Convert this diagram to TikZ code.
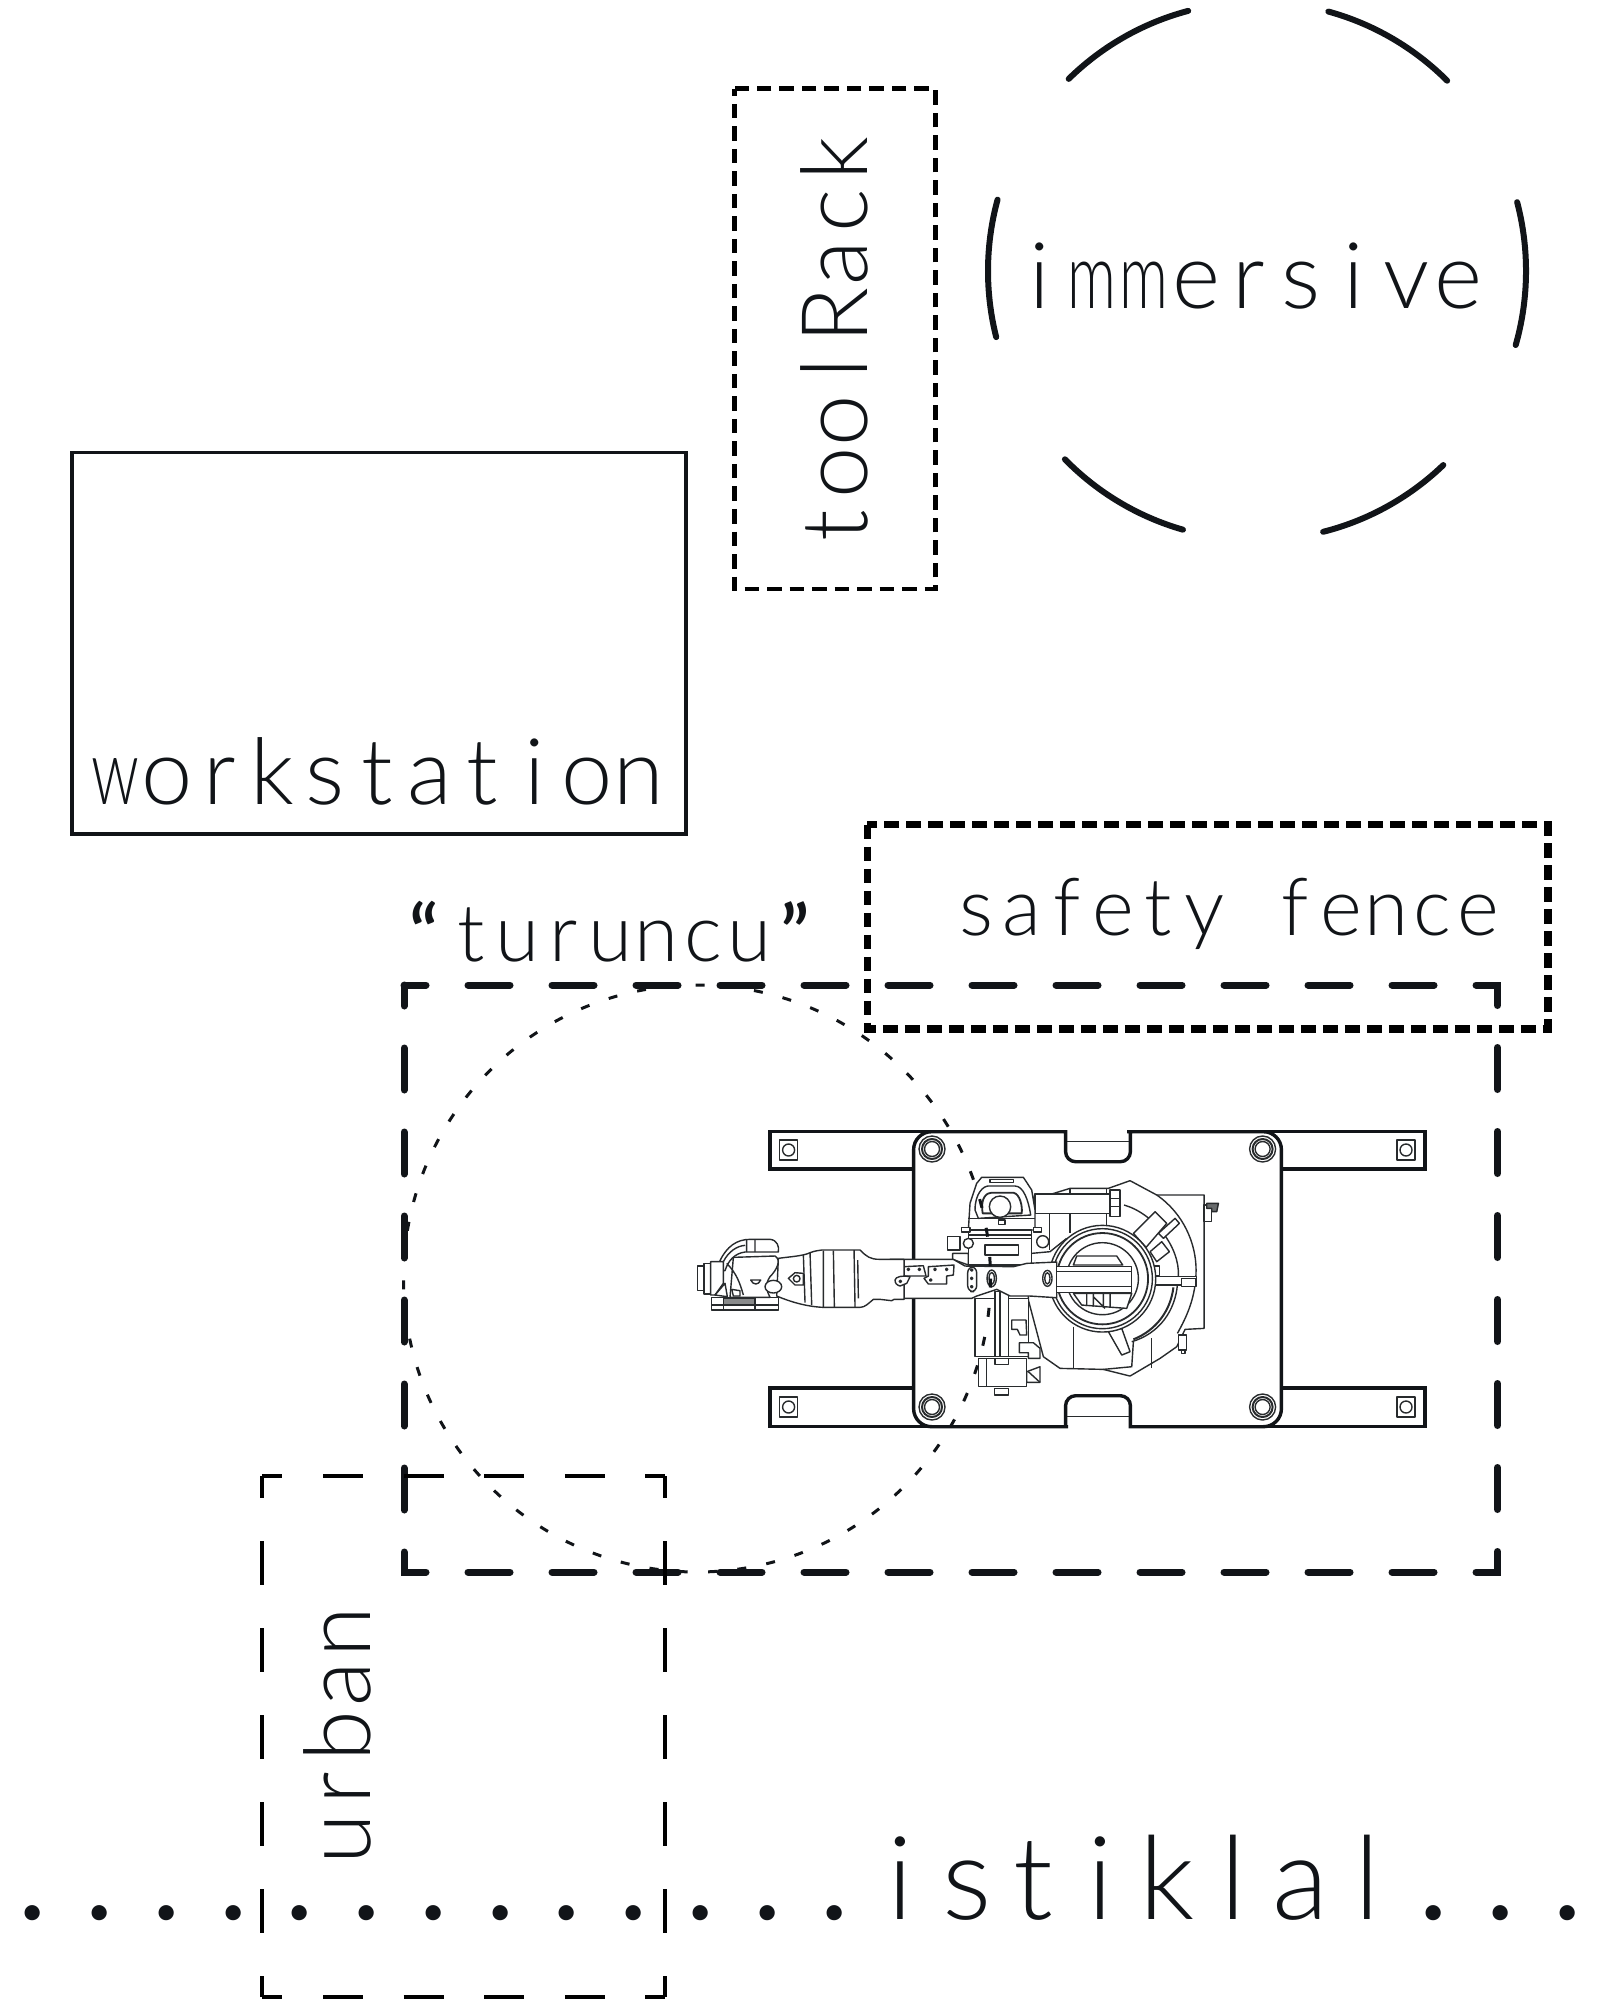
\documentclass[tikz,border=0pt]{standalone}
\usepackage{xcolor}
\usepackage{graphicx}
\usepackage{fontspec}
\newfontfamily\labelfont[UprightFont=* Light]{Lato}
\definecolor{inkblack}{RGB}{17,20,24}
\definecolor{robotgray}{RGB}{40,43,45}
% every letter sits in a box of one pitch
\makeatletter
\newcommand\monotext[2]{\@tfor\monochar:=#2\do{\makebox[#1][c]{\monochar}}}
\makeatother
\newcommand\thinm{\scalebox{0.66}[1]{m}}
\newcommand\thinw{\scalebox{0.68}[1]{w}}
\newcommand\fatdot{{\fontsize{82}{82}\selectfont .}}
\newcommand\openq{{\bfseries\fontsize{39}{39}\selectfont “}}
\newcommand\closeq{{\bfseries\fontsize{39}{39}\selectfont ”}}

\begin{document}
\begin{tikzpicture}[
  x=0.5pt, y=-0.5pt,
  lbl/.style={inner sep=0pt, anchor=base, text=inkblack, font=\labelfont\fontsize{46}{50}\selectfont},
  smalllbl/.style={lbl, font=\labelfont\fontsize{40}{44}\selectfont},
  streetlbl/.style={lbl, font=\labelfont\fontsize{58}{60}\selectfont},
  ring/.style={circle, draw=inkblack, line width=3pt, line cap=round, minimum size=269pt, inner sep=0pt, dash pattern=on 69.5pt off 70.9pt, dash phase=34.7pt},
  zone/.style={draw=inkblack, line width=3.5pt, line cap=round, line join=miter, dash pattern=on 21pt off 21pt, dash phase=10.5pt},
  fence/.style={draw=black, line width=3.8pt, dash pattern=on 7.4pt off 3.6pt},
  rack/.style={draw=black, line width=2.2pt, dash pattern=on 7.25pt off 4pt, dash phase=3.6pt},
  urbanh/.style={draw=black, line width=1.7pt, dash pattern=on 20pt off 20.3pt, dash phase=9.8pt},
  urbanv/.style={draw=black, line width=1.7pt, dash pattern=on 21.8pt off 21.7pt, dash phase=11pt},
  reach/.style={draw=inkblack, line width=1.5pt, dash pattern=on 4.5pt off 10.2pt},
  plate/.style={draw=inkblack, line width=1.7pt, fill=white},
  part/.style={draw=robotgray, line width=0.7pt, fill=white, line join=round},
  edge/.style={draw=robotgray, line width=0.7pt},
]
  \useasboundingbox (0,0) rectangle (1604,2000);

  % fixed things
  \draw[draw=inkblack, line width=1.9pt] (71.6,452.6) rectangle (685.8,834.3);
  \node[lbl] (workstation) at (377,804) {\monotext{26.2pt}{\thinw orkstation}};
  \draw[rack] (734.5,88.7) rectangle (935.3,589);
  \node[lbl, rotate=90] (toolrack) at (867.5,342) {\monotext{26.2pt}{toolRack}};
  \node[ring] (immersivering) at (1257,271) {};
  \node[lbl] (immersive) at (1249,308.6) {\monotext{26.2pt}{i\thinm\thinm ersive}};

  % robot cell
  \node[smalllbl] (turuncu) at (610,961) {\monotext{23.2pt}{\openq turuncu\closeq}};
  \draw[zone] (404,985) rectangle (1497.5,1572);
  \draw[fence] (867.3,824.5) rectangle (1547.7,1029);
  \node[smalllbl] (safety) at (1227,935) {\monotext{22.8pt}{safety{ }fence}};

  % base rails and plate
  \draw[plate] (770,1131.7) rectangle (930,1169);
  \draw[plate] (1260,1131.7) rectangle (1425,1169);
  \draw[plate] (770,1388) rectangle (930,1426.7);
  \draw[plate] (1260,1388) rectangle (1425,1426.7);
  \draw[plate, rounded corners=9pt] (989,1131.7) -- (913.6,1131.7) -- (913.6,1426.7) -- (1050,1426.7) [sharp corners] -- (1065.6,1426.7) [rounded corners=5pt] -- (1065.6,1395.7) -- (1130.4,1395.7) [sharp corners] -- (1130.4,1426.7)
    [rounded corners=9pt] -- (1281.4,1426.7) -- (1281.4,1131.7) -- (1145,1131.7) [sharp corners] -- (1130.4,1131.7) [rounded corners=5pt] -- (1130.4,1161.7) -- (1065.6,1161.7) [sharp corners] -- (1065.6,1131.7) -- cycle;
  \draw[edge] (1067,1141.7) -- (1129,1141.7);
  \draw[edge] (1067,1416.7) -- (1129,1416.7);
  \foreach \bx/\by in {932/1149, 1262.6/1149, 932/1407, 1262.6/1407} {
    \draw[part] (\bx,\by) circle (13);
    \draw[part, line width=1pt] (\bx,\by) circle (10);
    \draw[part] (\bx,\by) circle (7.5);
  }
  \foreach \sx/\sy in {788.6/1150, 1406/1150, 788.6/1407, 1406/1407} {
    \draw[part] (\sx-9,\sy-10) rectangle (\sx+9,\sy+10);
    \draw[part] (\sx,\sy) circle (6);
  }

  % robot body, traced at 3x from its top corner
  \begin{scope}[shift={(900,1170)}, x=0.1667pt, y=-0.1667pt]
    \draw[part] (385,130) -- (405,72) -- (455,72) -- (510,55) -- (625,55) -- (690,32) -- (770,75) -- (912,75) -- (912,178) -- (912,475) -- (855,478)
      -- (830,530) -- (780,565) -- (690,618) -- (610,598) -- (480,595) -- (430,560) -- (385,390) -- cycle;
    \draw[edge] (770,75) .. controls (850,130) and (888,220) .. (888,300) .. controls (888,380) and (860,440) .. (832,490);
    \draw[edge] (672,105) .. controls (760,130) and (840,230) .. (835,320);
    \draw[edge] (832,345) .. controls (825,420) and (780,490) .. (695,515);
    \draw[edge, line width=1pt] (820,352) .. controls (812,420) and (770,480) .. (700,508);
    \draw[edge] (700,515) -- (695,590) -- (610,598);
    \draw[edge] (755,505) -- (755,595);
    \draw[edge] (520,470) -- (520,595);
    \draw[edge] (448,130) -- (448,240);
    \draw[edge] (510,55) -- (510,190);
    \draw[edge] (620,55) -- (620,170);
    \draw[part] (405,72) rectangle (630,130);
    \draw[part] (630,60) rectangle (660,140);
    \draw[edge] (630,85) -- (660,85) (630,110) -- (660,110);
    \draw[part] (700,190) -- (765,125) -- (800,160) -- (738,232) -- cycle;
    \draw[part] (775,190) -- (825,145) -- (838,160) -- (790,205) -- cycle;
    \draw[part] (750,245) -- (785,215) -- (808,245) -- (770,275) -- cycle;
    \draw[part] (625,485) -- (665,555) -- (690,545) -- (665,475) -- cycle;
    \draw[part] (755,320) -- (890,320) -- (890,345) -- (755,345) -- cycle;
    \draw[part] (845,325) rectangle (888,350);
    \draw[part] (760,288) rectangle (778,316);
    \draw[part] (912,105) rectangle (935,155);
    \draw[part, fill=robotgray!70] (920,100) -- (955,100) -- (950,125) -- (935,125) -- (935,115) -- (920,115) -- cycle;
    \draw[part] (835,495) rectangle (860,540);
    \draw[part] (845,540) rectangle (855,550);
    % turntable
    \draw[part] (607,326) circle (160);
    \draw[part] (607,326) circle (150);
    \draw[part, line width=0.9pt] (607,326) circle (137);
    \draw[part] (607,326) circle (108);
    \draw[part] (520,285) -- (530,258) -- (650,258) -- (668,285) -- cycle;
    \draw[part] (520,370) -- (545,405) -- (680,415) -- (695,370) -- cycle;
    \draw[edge] (560,372) -- (560,408) (580,372) -- (580,410) (610,372) -- (610,412) (630,372) -- (630,412) (580,380) -- (615,415);
    % upper motor
    \draw[part] (205,180) -- (210,100) -- (230,40) -- (245,22) -- (370,22) -- (395,60) -- (405,120) -- (405,180) -- cycle;
    \draw[part] (270,28) rectangle (340,38);
    \draw[part] (225,120) .. controls (225,70) and (250,48) .. (265,48) -- (345,48) .. controls (370,48) and (385,90) .. (392,135) -- (235,145) -- cycle;
    \draw[part, line width=0.9pt] (248,130) .. controls (240,80) and (262,68) .. (275,68) -- (340,68) .. controls (360,72) and (368,110) .. (365,130) -- cycle;
    \draw[part] (300,110) circle (32);
    \draw[part] (295,150) rectangle (315,163);
    \draw[edge] (205,145) -- (405,145);
    \draw[part] (143,200) rectangle (180,240);
    \draw[part] (158,250) -- (205,250) -- (205,285) -- (158,268) -- cycle;
    \draw[part] (205,180) rectangle (395,285);
    \draw[edge] (205,205) -- (395,205) (205,195) -- (395,195);
    \draw[part] (255,225) rectangle (355,255);
    \draw[part] (205,220) circle (15);
    \draw[part] (185,172) rectangle (210,186);
    \draw[part] (400,172) rectangle (425,186);
    \draw[part] (428,215) circle (18);
    \draw[edge] (395,250) -- (450,245) -- (500,205);
    \draw[edge] (405,130) -- (448,130);
    % lower motor
    \draw[part] (225,385) rectangle (385,560);
    \draw[part] (285,365) rectangle (325,560);
    \draw[edge] (300,365) -- (300,560);
    \draw[part] (335,450) -- (378,450) -- (380,495) -- (360,495) -- (352,478) -- (335,478) -- cycle;
    \draw[part] (358,518) -- (400,518) -- (420,535) -- (420,565) -- (385,565) -- (385,548) -- (358,548) -- cycle;
    \draw[part] (235,565) rectangle (380,650);
    \draw[edge] (260,565) -- (260,650);
    \draw[part] (285,565) rectangle (325,583);
    \draw[part] (283,655) rectangle (325,675);
    \draw[part] (380,605) -- (420,590) -- (420,637) -- (380,637) -- cycle;
    \draw[edge] (385,605) -- (420,637);
    % forearm
    \draw[part] (-30,268) -- (160,268) -- (195,288) -- (340,290) -- (380,280) -- (470,276) -- (470,383) -- (390,378) -- (330,378) -- (290,358) -- (230,378) -- (215,385) -- (-30,385) -- cycle;
    \draw[part] (470,290) rectangle (695,368);
    \draw[edge] (470,305) -- (695,305) (470,350) -- (695,350);
    \draw[part] (275,325) ellipse (14 and 25);
    \draw[part] (275,325) ellipse (8 and 18);
    \draw[part] (442,325) ellipse (14 and 24);
    \draw[part] (442,325) ellipse (8 and 17);
    \draw[part, rounded corners=3pt] (203,290) rectangle (230,365);
    \foreach \dy in {300,325,350} {
      \draw[part, fill=robotgray] (215,\dy) circle (3.5);
    }
    \draw[part] (10,290) -- (70,287) -- (78,318) -- (10,318) -- cycle;
    \draw[part] (85,290) -- (162,285) -- (160,315) -- (140,318) -- (140,342) -- (85,342) -- (72,325) -- (85,318) -- cycle;
    \foreach \hx/\hy in {25/298, 58/298, 105/298, 140/298, 92/330} {
      \draw[part, fill=robotgray] (\hx,\hy) circle (3.5);
    }
  \end{scope}

  % wrist
  \begin{scope}[shift={(690,1220)}, x=0.1667pt, y=-0.1667pt]
    \draw[part] (265,115) .. controls (300,110) and (340,108) .. (360,98) .. controls (375,92) and (385,92) .. (395,90) -- (510,90) .. controls (530,110) and (540,118) .. (570,118) -- (642,118)
      -- (642,238) -- (612,238) -- (605,242) -- (570,238) -- (550,238) .. controls (535,250) and (525,262) .. (510,262) -- (400,262) .. controls (350,260) and (300,245) .. (260,228) -- cycle;
    \draw[edge] (340,105) -- (345,248) (360,98) -- (365,255) (400,92) -- (400,262) (430,92) -- (433,262) (492,90) -- (495,262) (503,120) -- (505,235);
    \draw[part] (295,175) -- (315,158) -- (340,160) -- (340,195) -- (315,195) -- cycle;
    \draw[part] (320,176) circle (10);
    \draw[part] (65,232) rectangle (265,270);
    \draw[part, fill=robotgray!55] (100,236) rectangle (195,255);
    \draw[edge] (65,255) -- (265,255) (100,232) -- (100,270) (195,232) -- (195,270);
    \draw[part] (130,112) -- (255,108) .. controls (275,120) and (260,150) .. (240,170) .. controls (225,190) and (230,215) .. (240,232) -- (120,232) -- cycle;
    \draw[part] (182,180) .. controls (190,196) and (205,196) .. (212,180) -- cycle;
    \draw[part] (250,200) ellipse (25 and 19);
    \draw[part] (90,122) .. controls (110,80) and (140,58) .. (180,58) -- (240,58) .. controls (262,60) and (268,80) .. (265,96) -- (165,96) .. controls (135,100) and (115,120) .. (105,152) -- (82,152) -- cycle;
    \draw[edge] (170,60) -- (170,96) (195,60) -- (195,96) (100,125) .. controls (115,95) and (140,78) .. (165,76);
    \draw[part] (22,138) rectangle (42,212);
    \draw[part] (42,130) rectangle (62,222);
    \draw[part] (62,125) -- (100,125) -- (100,190) -- (75,225) -- (62,225) -- cycle;
    \draw[edge] (110,130) .. controls (140,160) and (150,190) .. (160,225);
    \draw[part] (125,208) -- (150,212) -- (150,228) -- (130,228) -- cycle;
    \draw[part] (75,225) -- (105,190) -- (112,230) -- cycle;
    % forearm lugs
    \draw[part] (615,180) .. controls (615,170) and (640,165) .. (660,170) -- (650,190) -- (630,198) .. controls (620,195) and (615,190) .. (615,180) -- cycle;
    \draw[part, fill=robotgray] (631,184) circle (3.5);
  \end{scope}

  \draw[reach] (697,1278.5) circle (293.5);

  % street front
  \draw[urbanh] (262,1476) -- (665,1476);
  \draw[urbanh] (262,1997) -- (665,1997);
  \draw[urbanv] (262,1476) -- (262,1997);
  \draw[urbanv] (665,1476) -- (665,1997);
  \node[lbl, rotate=90] (urban) at (370,1736) {\monotext{25.9pt}{urban}};
  \node[streetlbl] (istiklal) at (800,1919) {\monotext{33.35pt}{\fatdot\fatdot\fatdot\fatdot\fatdot\fatdot\fatdot\fatdot\fatdot\fatdot\fatdot\fatdot\fatdot istiklal\fatdot\fatdot\fatdot}};
\end{tikzpicture}
\end{document}
